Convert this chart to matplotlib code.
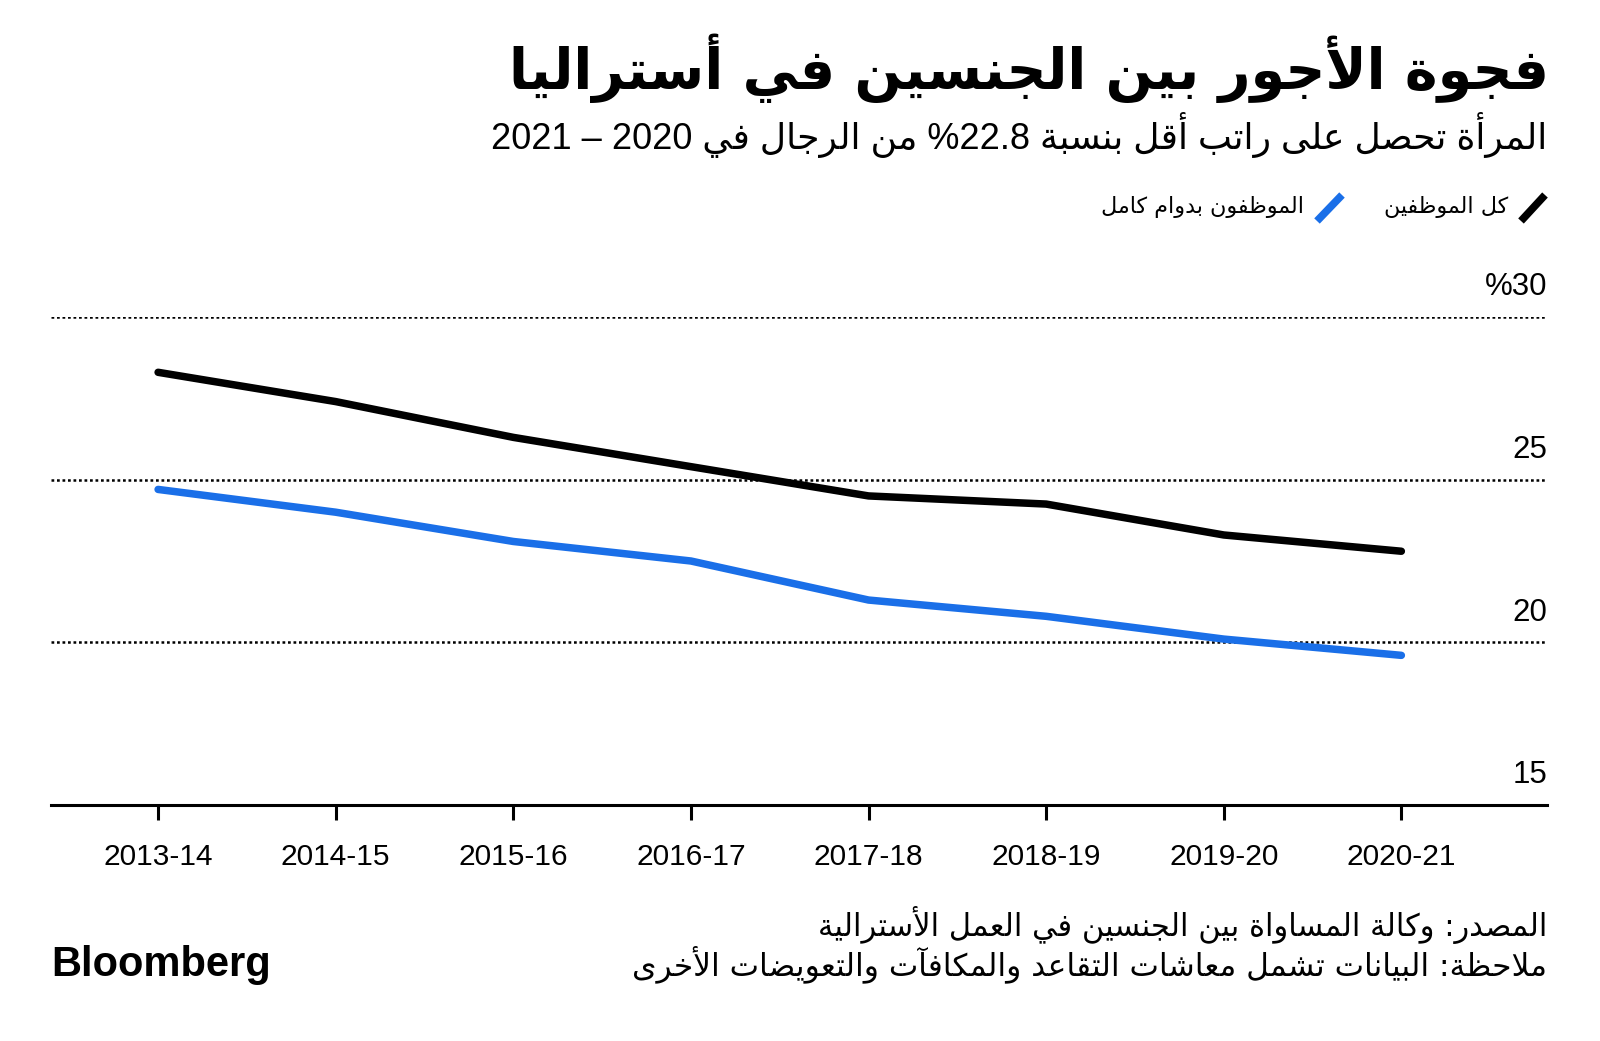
import re
import matplotlib
matplotlib.use('Agg')
import matplotlib.pyplot as plt
from matplotlib.lines import Line2D

# data (pay gap, %)
years = ['2013-14', '2014-15', '2015-16', '2016-17', '2017-18', '2018-19', '2019-20', '2020-21']
all_employees = [28.3, 27.4, 26.3, 25.4, 24.5, 24.25, 23.3, 22.8]
full_time = [24.7, 24.0, 23.1, 22.5, 21.3, 20.8, 20.1, 19.6]
y_ticks = [15, 20, 25, 30]
y_labels = ['15', '20', '25', '30%']

title = 'فجوة الأجور بين الجنسين في أستراليا'
subtitle = 'المرأة تحصل على راتب أقل بنسبة 22.8% من الرجال في 2020 – 2021'
leg_all = 'كل الموظفين'
leg_full = 'الموظفون بدوام كامل'
source = 'المصدر: وكالة المساواة بين الجنسين في العمل الأسترالية'
note = 'ملاحظة: البيانات تشمل معاشات التقاعد والمكافآت والتعويضات الأخرى'

BLUE = '#1a6fe8'

# --- minimal arabic shaping + rtl ordering (matplotlib has no text shaping) ---
DUAL = {'ب': 0xFE8F, 'ت': 0xFE95, 'ث': 0xFE99, 'ج': 0xFE9D, 'ح': 0xFEA1, 'خ': 0xFEA5,
        'س': 0xFEB1, 'ش': 0xFEB5, 'ص': 0xFEB9, 'ض': 0xFEBD, 'ط': 0xFEC1, 'ظ': 0xFEC5,
        'ع': 0xFEC9, 'غ': 0xFECD, 'ف': 0xFED1, 'ق': 0xFED5, 'ك': 0xFED9, 'ل': 0xFEDD,
        'م': 0xFEE1, 'ن': 0xFEE5, 'ه': 0xFEE9, 'ي': 0xFEF1, 'ئ': 0xFE89}
RIGHT = {'ا': 0xFE8D, 'أ': 0xFE83, 'إ': 0xFE87, 'آ': 0xFE81, 'ة': 0xFE93, 'د': 0xFEA9,
         'ذ': 0xFEAB, 'ر': 0xFEAD, 'ز': 0xFEAF, 'و': 0xFEED, 'ى': 0xFEEF, 'ؤ': 0xFE85}
LAM_ALEF = {'ا': 0xFEFB, 'أ': 0xFEF7, 'إ': 0xFEF9, 'آ': 0xFEF5}


def shape(s):
    chars = []
    i = 0
    while i < len(s):
        if s[i] == 'ل' and i + 1 < len(s) and s[i + 1] in LAM_ALEF:
            chars.append(('LA', s[i + 1]))
            i += 2
        else:
            chars.append(s[i])
            i += 1

    def j_prev(c):
        return isinstance(c, tuple) or c in DUAL or c in RIGHT

    def j_next(c):
        return (not isinstance(c, tuple)) and c in DUAL

    out = []
    for k, c in enumerate(chars):
        p = k > 0 and j_next(chars[k - 1]) and j_prev(c)
        n = k + 1 < len(chars) and j_next(c) and j_prev(chars[k + 1])
        if isinstance(c, tuple):
            out.append(chr(LAM_ALEF[c[1]] + (1 if p else 0)))
        elif c in DUAL:
            out.append(chr(DUAL[c] + (3 if p and n else 1 if p else 2 if n else 0)))
        elif c in RIGHT:
            out.append(chr(RIGHT[c] + (1 if p else 0)))
        else:
            out.append(c)
    return ''.join(out)


def ar(s):
    v = shape(s)[::-1]
    return re.sub(r'[0-9][0-9.]*[0-9]|[0-9]', lambda m: m.group(0)[::-1], v)


AR_FONT = ['DejaVu Sans']
NUM_FONT = ['Liberation Sans', 'DejaVu Sans']

W, H = 1600, 1041
fig = plt.figure(figsize=(16, 10.41), dpi=100)


def fx(x):
    return x / W


def fy(y):
    return 1 - y / H


ax = fig.add_axes([fx(51), fy(805), fx(1547) - fx(51), fy(317) - fy(805)])
x = list(range(len(years)))

ax.plot(x, all_employees, color='black', lw=5.4, solid_capstyle='round', solid_joinstyle='round', zorder=3)
ax.plot(x, full_time, color=BLUE, lw=5.4, solid_capstyle='round', solid_joinstyle='round', zorder=3)

ax.set_xlim(-0.603, 7.82)
ax.set_ylim(15, 30)

# dotted gridlines + y labels on the right
for v, lab in zip(y_ticks, y_labels):
    if v != 15:
        ax.axhline(v, color='black', lw=1.8, ls=(0, (1.1, 1.1)), zorder=1)
    ax.annotate(ar(lab), xy=(1, v), xycoords=('axes fraction', 'data'), xytext=(0, 15.5),
                textcoords='offset points', ha='right', va='baseline', fontsize=22.5,
                family=NUM_FONT)

for s in ['top', 'right', 'left']:
    ax.spines[s].set_visible(False)
ax.spines['bottom'].set_linewidth(2.2)
ax.set_yticks([])
ax.set_xticks(x)
ax.set_xticklabels(years, fontsize=21.5, family=NUM_FONT)
ax.tick_params(axis='x', length=11, width=2.2, pad=16.5, direction='out')

# titles
fig.text(fx(1549), fy(68), ar(title), ha='right', va='center', fontsize=40,
         fontweight='bold', family=AR_FONT)
fig.text(fx(1547), fy(135), ar(subtitle), ha='right', va='center', fontsize=26,
         family=['Liberation Sans', 'DejaVu Sans'])

# legend
fig.add_artist(Line2D([fx(1521), fx(1545)], [fy(221), fy(195)], color='black', lw=5.5,
                      solid_capstyle='butt'))
fig.text(fx(1508), fy(207), ar(leg_all), ha='right', va='center', fontsize=16, family=AR_FONT)
fig.add_artist(Line2D([fx(1317), fx(1342)], [fy(221), fy(195)], color=BLUE, lw=5.5,
                      solid_capstyle='butt'))
fig.text(fx(1304), fy(207), ar(leg_full), ha='right', va='center', fontsize=16, family=AR_FONT)

# footer
fig.text(fx(1547), fy(925), ar(source), ha='right', va='center', fontsize=22, family=AR_FONT)
fig.text(fx(1547), fy(964), ar(note), ha='right', va='center', fontsize=22.5, family=AR_FONT)
fig.text(fx(51), fy(965), 'Bloomberg', ha='left', va='center', fontsize=30,
         fontweight='bold', family=['Liberation Sans'])

fig.savefig('out.png', dpi=100, facecolor='white')
